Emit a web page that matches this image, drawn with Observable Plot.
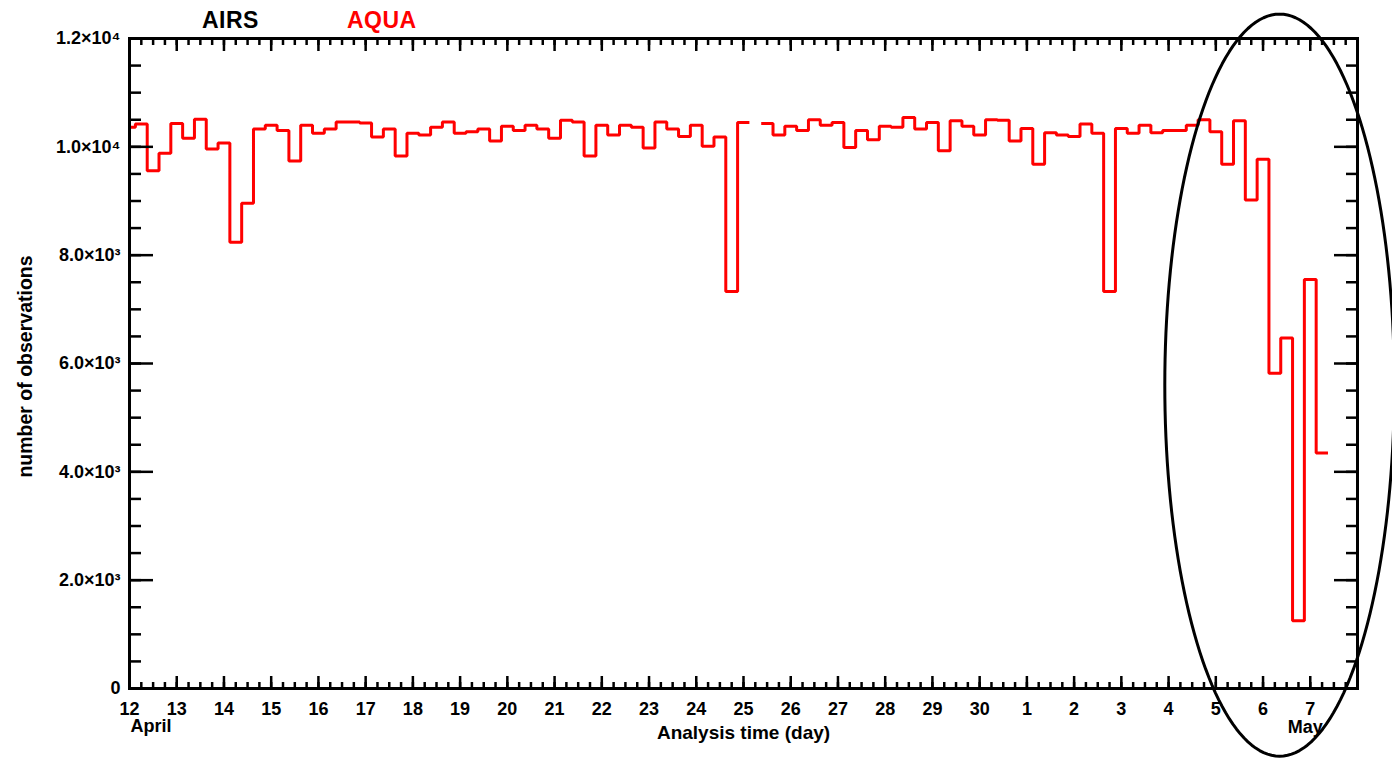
<!DOCTYPE html>
<html><head><meta charset="utf-8">
<script src="https://cdn.jsdelivr.net/npm/d3@7"></script>
<script src="https://cdn.jsdelivr.net/npm/@observablehq/plot@0.6"></script>
<style>
body{margin:0;background:#fff;font-family:"Liberation Sans",Arial,sans-serif;}
#wrap{position:relative;width:1392px;height:758px;overflow:hidden;}
.title{position:absolute;top:9px;font-weight:bold;font-size:23px;line-height:23px;letter-spacing:0.5px;}
</style></head><body>
<div id="wrap">
<div id="chart"></div>
<div class="title" style="left:202px;color:#000">AIRS</div>
<div class="title" style="left:347px;color:#f00">AQUA</div>
</div>
<script>
// ---- data ----
const startDate = "2004-04-12T00:00Z";
const endDate = "2004-05-08T00:00Z";
const stepHours = 6;
// number of observations per 6-hour analysis (null = missing)
const observations = [
  10360, 10420, 9560, 9880, 10430, 10160, 10510, 9960, 10070, 8240,
  8960, 10330, 10400, 10300, 9740, 10400, 10250, 10330, 10460, 10460,
  10440, 10180, 10330, 9830, 10250, 10220, 10360, 10460, 10250, 10280,
  10330, 10110, 10380, 10300, 10400, 10330, 10160, 10490, 10460, 9830,
  10400, 10220, 10400, 10360, 9980, 10460, 10330, 10190, 10400, 10010,
  10180, 7330, 10450, null, 10430, 10220, 10380, 10300, 10500, 10400,
  10450, 9990, 10300, 10130, 10380, 10360, 10540, 10330, 10450, 9930,
  10480, 10380, 10220, 10500, 10490, 10110, 10340, 9680, 10260, 10220,
  10190, 10420, 10250, 7330, 10340, 10250, 10400, 10260, 10300, 10300,
  10400, 10500, 10280, 9680, 10480, 9020, 9770, 5820, 6470, 1250,
  7550, 4350
];
const yMajorTicks = [0, 2000, 4000, 6000, 8000, 10000, 12000];
const yTickLabels = ["0", "2.0×10³", "4.0×10³", "6.0×10³", "8.0×10³", "1.0×10⁴", "1.2×10⁴"];
const startMonth = {date: "2004-04-12T00:00Z", text: "April"};
const endMonth = {date: "2004-05-07T00:00Z", text: "May"};
const yTitle = "number of observations";
const xTitle = "Analysis time (day)";
// highlight ellipse (annotation)
const ring = {center: "2004-05-06T08:24Z", centerValue: 5600, halfDays: 2.43, halfValue: 6850};

// ---- derived ----
const x0 = new Date(startDate), x1 = new Date(endDate);
const stepMs = stepHours * 3600e3;
const times = observations.map((_, i) => new Date(+x0 + i * stepMs));
const steps = observations.flatMap((v, i) => v == null
  ? [{t: times[i], v: NaN}]
  : [{t: new Date(+times[i] - stepMs / 2), v}, {t: new Date(+times[i] + stepMs / 2), v}]);
const majorX = d3.utcDay.range(x0, x1);
const minorX = d3.utcHour.every(6).range(x0, new Date(+x1 + 1));
const minorY = d3.range(0, 12001, 500);
const ringC = new Date(ring.center);
const ringPts = d3.range(0, 361, 2).map(a => {
  const r = a * Math.PI / 180;
  return {t: new Date(+ringC + Math.cos(r) * ring.halfDays * 864e5), v: ring.centerValue + Math.sin(r) * ring.halfValue};
});
const yFmt = d => yTickLabels[yMajorTicks.indexOf(d)];
const tickStyle = {stroke: "black", strokeWidth: 2.5, strokeLinecap: "butt", label: null, tickFormat: () => ""};
const FS = 18;

const chart = Plot.plot({
  width: 1392, height: 758,
  marginLeft: 129, marginRight: 35, marginTop: 38, marginBottom: 70,
  x: {type: "utc", domain: [x0, x1]},
  y: {domain: [0, 12000]},
  style: {fontFamily: "'Liberation Sans', Arial, sans-serif", fontSize: "18px", fontWeight: "bold", color: "black", background: "white", overflow: "visible"},
  marks: [
    Plot.line(steps, {x: "t", y: "v", stroke: "#ff0000", strokeWidth: 3, strokeLinejoin: "miter", strokeLinecap: "butt", clip: true}),
    // x ticks bottom & top
    Plot.axisX({...tickStyle, ticks: minorX, anchor: "bottom", tickSize: 6, dy: -6}),
    Plot.axisX({...tickStyle, ticks: majorX, anchor: "bottom", tickSize: 12, dy: -12}),
    Plot.axisX({...tickStyle, ticks: minorX, anchor: "top", tickSize: 6, dy: 6}),
    Plot.axisX({...tickStyle, ticks: majorX, anchor: "top", tickSize: 12, dy: 12}),
    // y ticks left & right
    Plot.axisY({...tickStyle, ticks: minorY, anchor: "left", tickSize: 12, dx: 12}),
    Plot.axisY({...tickStyle, ticks: yMajorTicks, anchor: "left", tickSize: 24, dx: 24}),
    Plot.axisY({...tickStyle, ticks: minorY, anchor: "right", tickSize: 12, dx: -12}),
    Plot.axisY({...tickStyle, ticks: yMajorTicks, anchor: "right", tickSize: 24, dx: -24}),
    // tick labels
    Plot.axisX({ticks: majorX, anchor: "bottom", tickSize: 0, tickPadding: 14, tickFormat: d3.utcFormat("%-d"), label: null, fill: "black", fontSize: FS}),
    Plot.axisY({ticks: yMajorTicks, anchor: "left", tickSize: 0, tickPadding: 9, tickFormat: yFmt, label: null, fill: "black", fontSize: FS}),
    Plot.frame({stroke: "black", strokeWidth: 3}),
    // month labels
    Plot.text([startMonth], {x: d => new Date(d.date), text: "text", frameAnchor: "bottom", lineAnchor: "middle", textAnchor: "start", dx: 1, dy: 38, fill: "black", fontSize: FS}),
    Plot.text([endMonth], {x: d => new Date(d.date), text: "text", frameAnchor: "bottom", lineAnchor: "middle", textAnchor: "middle", dx: -5, dy: 39, fill: "black", fontSize: FS}),
    // axis titles
    Plot.text([xTitle], {text: d => d, frameAnchor: "bottom", lineAnchor: "middle", textAnchor: "middle", dy: 44, fill: "black", fontSize: 19}),
    Plot.text([yTitle], {text: d => d, frameAnchor: "left", lineAnchor: "middle", textAnchor: "middle", rotate: -90, dx: -104, dy: 3, fill: "black", fontSize: 19.5}),
    // annotation ellipse
    Plot.line(ringPts, {x: "t", y: "v", stroke: "black", strokeWidth: 3, clip: false})
  ]
});
document.getElementById("chart").appendChild(chart);
</script>
</body></html>
